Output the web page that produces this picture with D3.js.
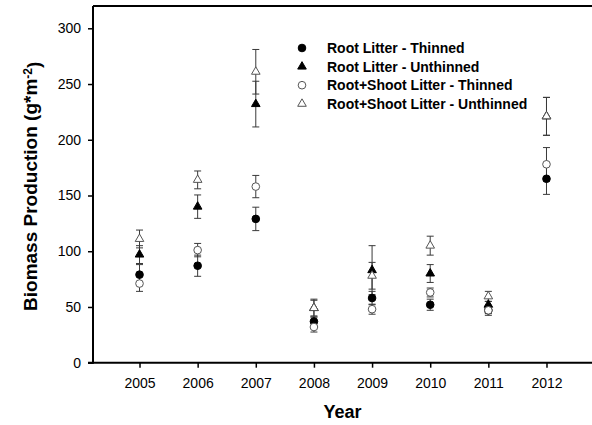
<!DOCTYPE html>
<html>
<head>
<meta charset="utf-8">
<script src="https://cdn.jsdelivr.net/npm/d3@7"></script>
<style>
    body { margin: 0; background: #fff; }
    svg { display: block; font-family: "Liberation Sans", Arial, sans-serif; }
    .axis path, .axis line { stroke: #000; }
</style>
</head>
<body>
<div id="chart"></div>
<script>

// ---- data ----
let years = [2005, 2006, 2007, 2008, 2009, 2010, 2011, 2012];
let yTicks = [0, 50, 100, 150, 200, 250, 300];

let rootThinned      = [79, 87, 129, 37, 58, 52, 47, 165];
let rootThinnedErr   = [9, 9.5, 10.5, 4, 6, 5, 3, 14];
let rootUnthinned    = [97, 140, 232, 49, 83, 80, 52, 221];
let rootUnthinnedErr = [8, 10.5, 20.5, 7, 22, 8, 3, 17];
let rsThinned        = [71, 101, 158, 32, 48, 63, 47, 178];
let rsThinnedErr     = [7, 6, 10, 4.5, 4.5, 4, 4.5, 15];
let rsUnthinned      = [111, 164, 261, 49, 78, 105, 59.5, 221];
let rsUnthinnedErr   = [8, 8, 20, 8, 12, 8.5, 4.5, 17];

let seriesNames = [
    "Root Litter - Thinned",
    "Root Litter - Unthinned",
    "Root+Shoot Litter - Thinned",
    "Root+Shoot Litter - Unthinned"
];

// build series table
let series = [
    {name: seriesNames[0], values: rootThinned, errs: rootThinnedErr, shape: "circle", filled: true},
    {name: seriesNames[1], values: rootUnthinned, errs: rootUnthinnedErr, shape: "triangle", filled: true},
    {name: seriesNames[2], values: rsThinned, errs: rsThinnedErr, shape: "circle", filled: false},
    {name: seriesNames[3], values: rsUnthinned, errs: rsUnthinnedErr, shape: "triangle", filled: false}
];

let width = 592, height = 425;
let margin = {top: 6, right: 0, bottom: 63, left: 93};

let svg = d3.select("#chart").append("svg")
    .attr("width", width)
    .attr("height", height);

let x = d3.scaleLinear()
    .domain([2004.2, 2012.8])
    .range([margin.left, 593]);

let y = d3.scaleLinear()
    .domain([0, 320])
    .range([height - margin.bottom + 0.7, margin.top]);

// symbol generators
let symbolFor = s => d3.symbol()
    .type(s.shape === "circle" ? d3.symbolCircle : d3.symbolTriangle)
    .size(s.shape === "circle" ? 46 : 32)();

// top frame line
svg.append("line")
    .attr("x1", x.range()[0]).attr("x2", width)
    .attr("y1", y(320)).attr("y2", y(320))
    .attr("stroke", "#000").attr("stroke-width", 2);

// axes
let xAxis = d3.axisBottom(x)
    .tickValues(years)
    .tickFormat(d3.format("d"))
    .tickSize(5)
    .tickPadding(10);

let yAxis = d3.axisLeft(y)
    .tickValues(yTicks)
    .tickSize(5)
    .tickPadding(7);

let gx = svg.append("g")
    .attr("class", "axis")
    .attr("transform", `translate(0, ${y(0)})`)
    .call(xAxis);

let gy = svg.append("g")
    .attr("class", "axis")
    .attr("transform", `translate(${x.range()[0]}, 0)`)
    .call(yAxis);

[gx, gy].forEach(g => {
    g.select(".domain").attr("stroke-width", 2);
    g.selectAll(".tick line").attr("stroke-width", 1.5);
    g.selectAll("text")
        .attr("fill", "#000")
        .style("font-size", "14px");
});
gx.select(".domain").attr("d", `M${x.range()[0]},0H${width}`);
gy.select(".domain").attr("d", `M-5,${y(0)}H0V${y(320)}`);

// error bars
series.forEach(s => {
    let g = svg.append("g").attr("class", "errs");
    s.values.forEach((v, i) => {
        if (v == null) return;
        let cx = x(years[i]);
        let lo = y(v - s.errs[i]), hi = y(v + s.errs[i]);
        g.append("line")
            .attr("x1", cx).attr("x2", cx)
            .attr("y1", lo).attr("y2", hi)
            .attr("stroke", "#3a3a3a").attr("stroke-width", 1);
        [lo, hi].forEach(yy => {
            g.append("line")
                .attr("x1", cx - 3.5).attr("x2", cx + 3.5)
                .attr("y1", yy).attr("y2", yy)
                .attr("stroke", "#3a3a3a").attr("stroke-width", 1);
        });
    });
});

// markers
series.forEach(s => {
    svg.append("g")
        .selectAll("path")
        .data(s.values.map((v, i) => ({year: years[i], value: v})).filter(d => d.value != null))
        .enter().append("path")
        .attr("d", symbolFor(s))
        .attr("transform", d => `translate(${x(d.year)}, ${y(d.value)})`)
        .attr("fill", s.filled ? "#000" : "#fff")
        .attr("stroke", s.filled ? "#000" : "#555")
        .attr("stroke-width", 1);
});

// legend
let legend = svg.append("g")
    .attr("class", "legend")
    .attr("transform", "translate(302, 48)");

series.forEach((s, i) => {
    let row = legend.append("g")
        .attr("transform", `translate(0, ${i * 18.6})`);
    row.append("path")
        .attr("d", symbolFor(s))
        .attr("fill", s.filled ? "#000" : "#fff")
        .attr("stroke", s.filled ? "#000" : "#555")
        .attr("stroke-width", 1);
    row.append("text")
        .attr("x", 25)
        .attr("dy", "0.36em")
        .style("font-size", "14px")
        .style("font-weight", "bold")
        .text(s.name);
});

// axis titles
svg.append("text")
    .attr("x", (x.range()[0] + width) / 2)
    .attr("y", 418)
    .attr("text-anchor", "middle")
    .style("font-size", "18px")
    .style("font-weight", "bold")
    .text("Year");

let yTitle = svg.append("text")
    .attr("transform", `translate(37, ${(y(0) + y(320)) / 2 + 2}) rotate(-90)`)
    .attr("text-anchor", "middle")
    .style("font-size", "19px")
    .style("font-weight", "bold");
yTitle.append("tspan").text("Biomass Production (g*m");
yTitle.append("tspan").attr("dy", "-0.45em").style("font-size", "12px").text("-2");
yTitle.append("tspan").attr("dy", "0.45em").text(")");

</script>
</body>
</html>
